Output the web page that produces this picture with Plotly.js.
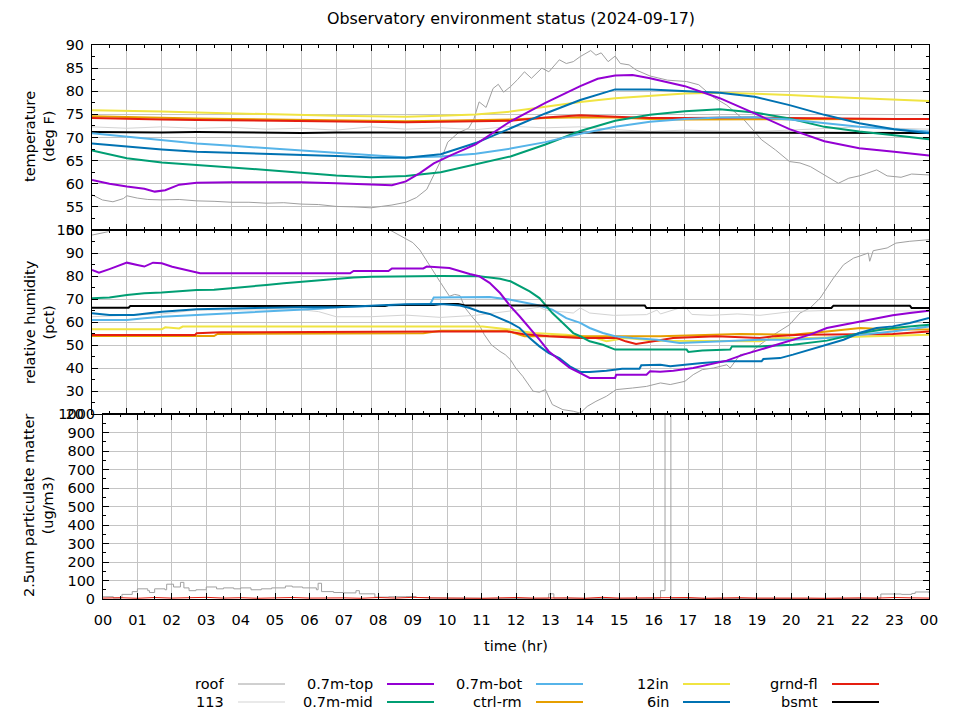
<!DOCTYPE html>
<html><head><meta charset="utf-8">
<script src="https://cdn.plot.ly/plotly-3.0.1.min.js"></script>
<style>html,body{margin:0;padding:0;background:#fff}#chart{width:960px;height:720px}</style>
</head><body><div id="chart"></div>
<script>
// ---------- tick labels ----------
const hourTicks = [0,1,2,3,4,5,6,7,8,9,10,11,12,13,14,15,16,17,18,19,20,21,22,23,24];
const hourLabels = ['00','01','02','03','04','05','06','07','08','09','10','11','12','13','14','15','16','17','18','19','20','21','22','23','00'];
const seriesNames = ['roof','113','0.7m-top','0.7m-mid','0.7m-bot','ctrl-rm','12in','6in','grnd-fl','bsmt'];

// ---------- temperature (deg F) ----------
const tHours = [0,1,2,3,4,5,6,7,8,9,10,11,12,13,14,15,16,17,18,19,20,21,22,23,24];
const tRoofX = [0,0.3,0.6,0.9,1.0,1.3,1.6,2.0,2.5,3.0,3.5,4.0,4.5,5.0,5.5,6.0,6.5,7.0,7.5,8.0,8.3,8.6,9.0,9.3,9.6,9.8,10.0,10.2,10.5,10.8,10.95,11.1,11.3,11.5,11.65,11.8,12.0,12.2,12.4,12.6,12.9,13.1,13.4,13.6,13.8,14.0,14.3,14.45,14.6,14.8,15.0,15.15,15.4,15.6,16.0,16.5,17.05,17.4,17.8,18.2,18.7,19.2,19.6,20.0,20.3,20.6,21.1,21.4,21.7,22.0,22.2,22.5,22.8,23.2,23.5,24.0];
const tRoofY = [57.6,56.5,56.1,56.8,57.4,56.9,56.6,56.5,56.6,56.3,56.2,56.0,56.0,55.8,55.9,55.6,55.5,55.1,55.0,54.8,55.1,55.4,56.0,57.0,58.8,62.0,65.0,69.0,71.0,72.0,74.0,77.7,76.5,80.6,81.5,79.8,81.0,82.5,84.2,82.8,85.0,84.2,86.8,86.0,86.4,87.5,88.8,87.8,88.3,86.4,87.6,86.0,85.7,84.6,83.3,82.4,82.1,81.4,78.8,77.0,73.8,69.5,67.3,64.8,64.5,63.7,61.5,60.1,61.2,61.7,62.2,63.0,61.7,61.4,62.1,61.9];
const t113 = [72.3,72.0,72.3,72.0,72.2,71.8,72.0,71.6,72.3,71.8,72.1,71.7,72.4,72.1,72.3,71.7,71.3,71.6,71.4,71.3,71.6,72.0,72.3,72.0,71.8];
const tTopX = [0,0.5,1,1.5,1.8,2.1,2.5,3,4,5,6,7,8,8.6,9,9.4,9.8,10.3,11,12,13,14,14.5,15,15.5,16,17,18,19,20,21,22,23,24];
const tTopY = [60.8,60.0,59.4,58.9,58.3,58.6,59.8,60.2,60.3,60.3,60.3,60.1,59.9,59.7,60.5,62.3,64.4,66.2,68.5,73.5,77.5,81.1,82.7,83.4,83.5,82.8,81.1,78.5,75.2,71.8,69.2,67.7,66.9,66.1];
const tMid = [67.2,65.5,64.6,64.1,63.5,63.0,62.4,61.8,61.4,61.7,62.5,64.2,65.9,68.5,71.4,73.6,74.9,75.7,76.1,75.4,74.1,72.3,71.3,70.5,69.6];
const tBot = [70.9,70.2,69.5,68.7,68.2,67.7,67.2,66.6,66.1,65.7,65.9,66.5,67.6,69.0,70.8,72.3,73.4,74.0,74.3,74.4,73.9,73.1,72.3,71.8,71.3];
const tCtrl = [74.6,74.4,74.3,74.1,74.0,73.9,73.8,73.6,73.5,73.5,73.6,73.7,73.9,74.2,74.4,74.3,74.0,73.9,73.9,73.9,73.9,74.0,74.0,74.0,74.0];
const t12in = [75.9,75.8,75.6,75.4,75.2,75.0,74.9,74.7,74.6,74.5,74.7,75.0,75.6,76.7,77.7,78.5,79.0,79.5,79.7,79.5,79.2,78.8,78.5,78.1,77.9];
const t6in = [68.7,68.0,67.4,66.9,66.7,66.4,66.2,66.0,65.7,65.6,66.4,68.8,72.0,75.2,78.1,80.4,80.4,80.1,79.7,78.8,77.0,74.9,73.1,71.8,70.9];
const tGrnd = [74.2,74.0,73.9,73.8,73.7,73.6,73.5,73.4,73.4,73.3,73.4,73.5,73.6,74.3,74.8,74.5,74.2,74.2,74.3,74.3,74.2,74.1,74.0,74.0,74.0];
const tBsmt = [71.2,71.1,71.1,71.2,71.1,71.1,71.0,71.1,71.1,71.1,71.0,71.1,71.1,71.1,71.0,71.1,71.1,71.1,71.1,71.0,71.1,71.0,71.0,71.0,71.0];

// ---------- relative humidity (pct) ----------
const rRoofX = [0,0.3,0.45,0.6,8.4,8.6,9.0,9.2,9.4,9.6,9.8,10.0,10.25,10.4,10.55,10.7,10.93,11.1,11.25,11.45,11.7,11.85,12.0,12.15,12.35,12.65,12.83,13.0,13.2,13.5,13.8,14.0,14.2,14.45,14.75,15.03,15.5,15.9,16.3,16.58,17.0,17.24,17.5,17.82,18.2,18.3,18.58,18.87,19.15,19.55,20.0,20.3,20.59,20.88,21.07,21.26,21.55,21.84,22.0,22.26,22.3,22.4,22.8,23.05,23.45,24];
const rRoofY = [97.8,98.6,99.2,101,101,99.5,96.4,94.5,91.3,86.5,81.2,77.0,71.2,72.0,71.5,66.1,61.7,58.8,54.5,50.1,47.2,45.8,43.6,40.0,36.4,29.9,29.5,30.6,24.1,21.9,21.2,20.4,23.3,25.5,27.7,30.6,31.3,32.0,33.5,32.8,34.2,37.1,39.3,40.0,41.4,40.0,45.8,46.5,50.1,54.5,58.8,63.9,66.1,70.4,74.8,79.1,84.9,87.8,88.6,90.0,86.4,91.0,92.2,94.3,95.1,95.8];
const r113X = [0,1,2,3,4,6,6.5,7,8,9,10,10.55,11,11.9,12.4,12.83,13.0,13.8,14.0,14.27,14.95,15.9,16.2,16.3,17.0,17.2,17.75,18.5,19.15,20.1,21.07,22,23,24];
const r113Y = [62.3,63.0,63.5,65.2,65.3,65.3,64.5,62.3,62.3,63.0,62.0,62.5,62.9,64.6,65.4,66.4,65.2,63.9,66.1,63.9,62.9,63.2,65.2,63.5,66.8,63.3,62.9,63.5,62.9,64.6,65.0,64.8,64.8,64.8];
const rTopX = [0,0.2,0.5,0.8,1.0,1.3,1.5,1.75,2.0,2.3,2.5,2.9,3.1,7.4,7.5,8.5,8.6,9.5,9.6,10.25,10.55,10.83,11.1,11.4,11.7,12.0,12.26,12.55,12.83,13.1,13.4,13.7,14.0,14.27,15.0,15.03,15.9,16.0,16.29,16.67,17.24,17.7,18.2,18.68,19.15,19.64,20.1,20.59,21.07,21.55,22.03,22.5,22.96,23.45,24];
const rTopY = [82.6,81.4,83.0,84.5,85.8,84.8,84.1,85.8,85.5,84.0,83.3,81.9,81.2,81.2,82.2,82.2,83.3,83.3,84.1,83.5,82.0,80.9,79.9,77.0,72.6,66.8,62.5,57.4,52.3,47.2,43.6,40.0,37.8,35.7,35.7,37.1,37.1,38.6,38.4,38.8,40.0,41.4,43.2,45.8,48.0,50.1,52.3,54.5,57.4,58.8,60.3,61.7,62.9,63.9,64.9];
const rMidX = [0,0.5,1,1.5,2,2.5,3,3.5,4,4.5,5,5.5,6,6.5,7,7.5,8,9,10,11.1,11.4,11.7,12.0,12.26,12.55,12.83,13.0,13.2,13.5,13.8,14.0,14.27,14.65,15.0,17.05,17.1,17.5,18.3,18.35,19.15,20.1,21.07,22.03,22.96,24];
const rMidY = [70.3,70.7,71.7,72.5,72.8,73.5,73.9,74.0,74.6,75.4,76.1,76.8,77.5,78.0,78.6,79.4,79.7,79.9,80.0,79.9,79.5,78.8,77.7,75.5,73.3,70.4,67.5,63.9,59.6,55.2,53.8,51.6,50.1,48.0,48.0,47.0,47.6,48.0,49.4,49.4,50.1,51.9,55.2,57.4,58.8];
const rBotX = [0,1,1.5,2,3,4,5,6,6.5,7,8,9,9.7,9.8,11.4,12.0,12.45,12.83,13.2,13.6,14.0,14.27,14.65,15.0,15.5,16.2,16.85,18.2,19.15,20.1,21.07,22.03,22.96,24];
const rBotY = [60.9,60.9,61.6,62.3,63.0,63.8,64.5,65.2,65.8,66.4,67.0,67.4,67.8,70.7,70.9,69.7,68.3,67.2,65.4,61.7,59.6,57.4,55.2,53.8,53.0,52.3,50.9,51.6,52.3,52.3,53.0,54.5,55.9,58.1];
const rCtrlX = [0,3.5,3.6,9.5,10.0,11.9,12.4,16.3,18.58,20.1,21.07,22.03,22.96,24];
const rCtrlY = [53.9,53.9,54.8,55.1,56.2,56.2,53.8,53.8,54.8,54.5,55.9,57.4,56.7,56.7];
const r12inX = [0,2.0,2.1,2.5,2.6,11.2,12.0,12.65,13.6,14.45,14.75,15.3,16.2,17.3,19.15,19.6,20.59,22.4,24];
const r12inY = [56.8,56.8,57.7,57.2,58.0,58.0,56.7,55.2,54.5,53.0,51.6,53.0,51.9,51.9,51.6,53.0,53.0,53.8,54.5];
const r6inX = [0,0.5,1.2,2,2.5,3,4,5,6,7,8,9,10,10.55,10.83,11.1,11.4,11.7,12.0,12.26,12.55,12.83,13.1,13.4,13.7,14.0,14.27,14.75,15.2,15.7,15.75,16.3,16.58,17.0,17.5,18.2,19.2,19.25,19.73,20.1,20.59,21.07,21.55,22.0,22.5,22.96,23.45,24];
const r6inY = [63.8,63.0,63.0,64.5,65.0,65.5,65.9,66.2,66.4,66.4,67.0,67.7,67.8,67.2,66.1,64.6,63.5,61.7,59.6,57.4,53.0,49.4,46.5,44.3,40.7,38.3,38.3,38.8,39.7,39.7,41.2,41.4,40.8,41.4,42.2,42.9,42.9,43.9,44.3,45.8,48.0,50.1,52.3,55.2,57.4,58.1,59.6,61.7];
const rGrndX = [0,2.95,3.0,3.7,10,11.9,12.35,13.1,14.0,15.05,15.3,15.6,16.1,16.66,17.9,19.15,19.55,20.3,22.96,24];
const rGrndY = [54.3,54.3,55.1,55.5,55.9,55.9,54.8,53.8,53.0,53.0,51.6,50.4,51.6,53.0,53.8,53.0,53.8,54.5,54.8,55.9];
const rBsmtX = [0,1.05,1.1,8.4,8.5,9.8,10.0,10.5,10.7,15.85,15.9,21.2,21.26,23.45,23.5,24];
const rBsmtY = [66.2,66.2,67.0,67.0,67.4,67.4,67.8,67.8,67.2,67.2,66.1,66.1,67.1,67.1,66.1,66.1];

// ---------- 2.5um particulate matter (ug/m3) ----------
const pRoofX = [0,0.3,0.5,0.55,0.85,1.0,1.3,1.35,1.5,1.8,1.85,2.05,2.25,2.35,2.5,2.7,3.0,3.3,3.5,3.8,4.0,4.3,4.6,4.9,5.3,5.5,5.8,6.2,6.25,6.35,6.7,7.0,7.35,7.45,7.9,8.3,8.8,9.1,9.5,10,11,12,12.9,12.95,13.1,14,15,16.1,16.2,16.3,16.33,16.47,16.5,17,18,19,20,21,22,22.5,22.6,23.2,23.5,23.6,24];
const pRoofY = [12,5,5,25,40,55,45,35,55,50,80,65,90,60,45,50,65,55,60,55,60,50,55,60,70,65,60,50,85,40,35,33,45,28,10,12,13,8,5,4,3,3,4,28,4,3,3,4,45,45,1500,1500,3,3,3,3,2,3,3,4,27,25,30,38,33];
const pGrndX = [0,0.5,1,1.5,2,2.5,3,3.5,4,4.5,5,5.5,6,6.5,7,7.5,8,8.5,9,9.5,10,10.5,11,11.5,12,12.5,13,13.5,14,14.5,15,15.5,16,16.5,17,17.5,18,18.5,19,19.5,20,20.5,21,21.5,22,22.5,23,23.5,24];
const pGrndY = [5,7,4,8,5,6,9,5,7,4,6,8,5,7,6,4,8,5,9,6,5,7,4,6,8,5,7,6,4,9,5,6,7,5,8,4,6,7,5,6,8,5,4,7,6,5,8,6,5];

const colors = {roof:'#a0a0a0', l113:'#d3d3d3', top:'#9400d3', mid:'#009e73', bot:'#56b4e9', ctrl:'#e69f00', in12:'#f0e442', in6:'#0072b2', grnd:'#e51e10', bsmt:'#000000'};

function tr(x, y, name, color, width, xa, ya, shape) {
  return {x: x, y: y, name: name, type: 'scatter', mode: 'lines', xaxis: xa, yaxis: ya,
    line: {color: color, width: width, shape: shape || 'linear'}, showlegend: false, hoverinfo: 'skip'};
}

const data = [
  // temperature panel
  tr(tRoofX, tRoofY, 'roof', colors.roof, 1, 'x3', 'y3'),
  tr(tHours, t113, '113', colors.l113, 1, 'x3', 'y3'),
  tr(tHours, tBsmt, 'bsmt', colors.bsmt, 2, 'x3', 'y3'),
  tr(tHours, t12in, '12in', colors.in12, 2, 'x3', 'y3'),
  tr(tHours, tCtrl, 'ctrl-rm', colors.ctrl, 2, 'x3', 'y3'),
  tr(tHours, tGrnd, 'grnd-fl', colors.grnd, 2, 'x3', 'y3'),
  tr(tHours, tMid, '0.7m-mid', colors.mid, 2, 'x3', 'y3'),
  tr(tHours, tBot, '0.7m-bot', colors.bot, 2, 'x3', 'y3'),
  tr(tHours, t6in, '6in', colors.in6, 2, 'x3', 'y3'),
  tr(tTopX, tTopY, '0.7m-top', colors.top, 2, 'x3', 'y3'),
  // humidity panel
  tr(rRoofX, rRoofY, 'roof', colors.roof, 1, 'x2', 'y2'),
  tr(r113X, r113Y, '113', colors.l113, 1, 'x2', 'y2'),
  tr(r12inX, r12inY, '12in', colors.in12, 2, 'x2', 'y2'),
  tr(rCtrlX, rCtrlY, 'ctrl-rm', colors.ctrl, 2, 'x2', 'y2'),
  tr(rGrndX, rGrndY, 'grnd-fl', colors.grnd, 2, 'x2', 'y2'),
  tr(rBotX, rBotY, '0.7m-bot', colors.bot, 2, 'x2', 'y2'),
  tr(rMidX, rMidY, '0.7m-mid', colors.mid, 2, 'x2', 'y2'),
  tr(rBsmtX, rBsmtY, 'bsmt', colors.bsmt, 2, 'x2', 'y2'),
  tr(r6inX, r6inY, '6in', colors.in6, 2, 'x2', 'y2'),
  tr(rTopX, rTopY, '0.7m-top', colors.top, 2, 'x2', 'y2'),
  // particulate panel
  tr(pRoofX, pRoofY, 'roof', colors.roof, 1, 'x', 'y', 'hv'),
  tr(pGrndX, pGrndY, 'grnd-fl', colors.grnd, 1, 'x', 'y')
];

const FONT = 'DejaVu Sans';
const W = 960, H = 720;
const fx = p => p / W;
const fy = p => 1 - p / H;

function xAxis(domL, anchor, labels) {
  return {domain: [fx(domL), fx(929)], anchor: anchor, range: [0, 24], tickmode: 'array',
    tickvals: hourTicks, ticktext: hourLabels, showticklabels: labels,
    ticks: 'inside', ticklen: 6, tickcolor: '#000', tickwidth: 1,
    minor: {dtick: 0.5, tick0: 0, ticks: 'inside', ticklen: 3, tickcolor: '#000', showgrid: false},
    showline: true, linecolor: '#000', linewidth: 1, mirror: 'ticks',
    showgrid: true, gridcolor: '#c4c4c4', gridwidth: 1, zeroline: false, fixedrange: true,
    ticklabelstandoff: 8,
    tickfont: {family: FONT, size: 14.5, color: '#000'}};
}
function yAxis(top, bottom, anchor, lo, hi, step) {
  return {domain: [fy(bottom), fy(top)], anchor: anchor, range: [lo, hi], tickmode: 'linear',
    tick0: lo, dtick: step, ticks: 'inside', ticklen: 6, tickcolor: '#000', tickwidth: 1,
    minor: {dtick: step / 2, tick0: lo, ticks: 'inside', ticklen: 3, tickcolor: '#000', showgrid: false},
    showline: true, linecolor: '#000', linewidth: 1, mirror: 'ticks',
    showgrid: true, gridcolor: '#c4c4c4', gridwidth: 1, zeroline: false, fixedrange: true,
    ticklabelstandoff: 4,
    tickfont: {family: FONT, size: 14.5, color: '#000'}};
}

const annFont = {family: FONT, size: 14.5, color: '#000'};
const annotations = [
  {text: 'temperature<br>(deg F)', x: fx(39), y: fy(137), xref: 'paper', yref: 'paper', textangle: -90, showarrow: false, font: annFont, xanchor: 'center', yanchor: 'middle'},
  {text: 'relative humidity<br>(pct)', x: fx(39), y: fy(322), xref: 'paper', yref: 'paper', textangle: -90, showarrow: false, font: annFont, xanchor: 'center', yanchor: 'middle'},
  {text: '2.5um particulate matter<br>(ug/m3)', x: fx(39), y: fy(506), xref: 'paper', yref: 'paper', textangle: -90, showarrow: false, font: annFont, xanchor: 'center', yanchor: 'middle'},
  {text: 'time (hr)', x: fx(516), y: fy(646), xref: 'paper', yref: 'paper', showarrow: false, font: annFont, xanchor: 'center', yanchor: 'middle'}
];
const shapes = [];

// custom legend, gnuplot style: label then line sample
const legendItems = [
  {name: seriesNames[0], color: colors.roof, w: 1, col: 0, row: 0},
  {name: seriesNames[1], color: colors.l113, w: 1, col: 0, row: 1},
  {name: seriesNames[2], color: colors.top, w: 2, col: 1, row: 0},
  {name: seriesNames[3], color: colors.mid, w: 2, col: 1, row: 1},
  {name: seriesNames[4], color: colors.bot, w: 2, col: 2, row: 0},
  {name: seriesNames[5], color: colors.ctrl, w: 2, col: 2, row: 1},
  {name: seriesNames[6], color: colors.in12, w: 2, col: 3, row: 0},
  {name: seriesNames[7], color: colors.in6, w: 2, col: 3, row: 1},
  {name: seriesNames[8], color: colors.grnd, w: 2, col: 4, row: 0},
  {name: seriesNames[9], color: colors.bsmt, w: 2, col: 4, row: 1}
];
const legTextRight = [226, 375, 524, 671, 820];
const legRowY = [684, 702];
legendItems.forEach(it => {
  const xr = legTextRight[it.col], yy = legRowY[it.row];
  annotations.push({text: it.name, x: fx(xr), y: fy(yy), xref: 'paper', yref: 'paper', showarrow: false,
    xanchor: 'right', yanchor: 'middle', font: annFont});
  shapes.push({type: 'line', xref: 'paper', yref: 'paper', x0: fx(xr + 12), x1: fx(xr + 59), y0: fy(yy), y1: fy(yy),
    line: {color: it.color, width: it.w}});
});

const layout = {
  width: W, height: H, margin: {l: 0, r: 0, t: 0, b: 0, pad: 0},
  paper_bgcolor: '#fff', plot_bgcolor: '#fff', showlegend: false,
  font: {family: FONT, size: 14.5, color: '#000'},
  title: {text: 'Observatory environment status (2024-09-17)', x: fx(511), y: fy(18), xref: 'paper', yref: 'container',
    xanchor: 'center', yanchor: 'middle', font: {family: FONT, size: 15.9, color: '#000'}},
  xaxis: xAxis(103, 'y', true),
  xaxis2: xAxis(92, 'y2', false),
  xaxis3: xAxis(92, 'y3', false),
  yaxis: yAxis(414, 599, 'x', 0, 1000, 100),
  yaxis2: yAxis(230, 414, 'x2', 20, 100, 10),
  yaxis3: yAxis(45, 230, 'x3', 50, 90, 5),
  annotations: annotations,
  shapes: shapes
};

Plotly.newPlot('chart', data, layout, {staticPlot: true, displayModeBar: false});
</script></body></html>
